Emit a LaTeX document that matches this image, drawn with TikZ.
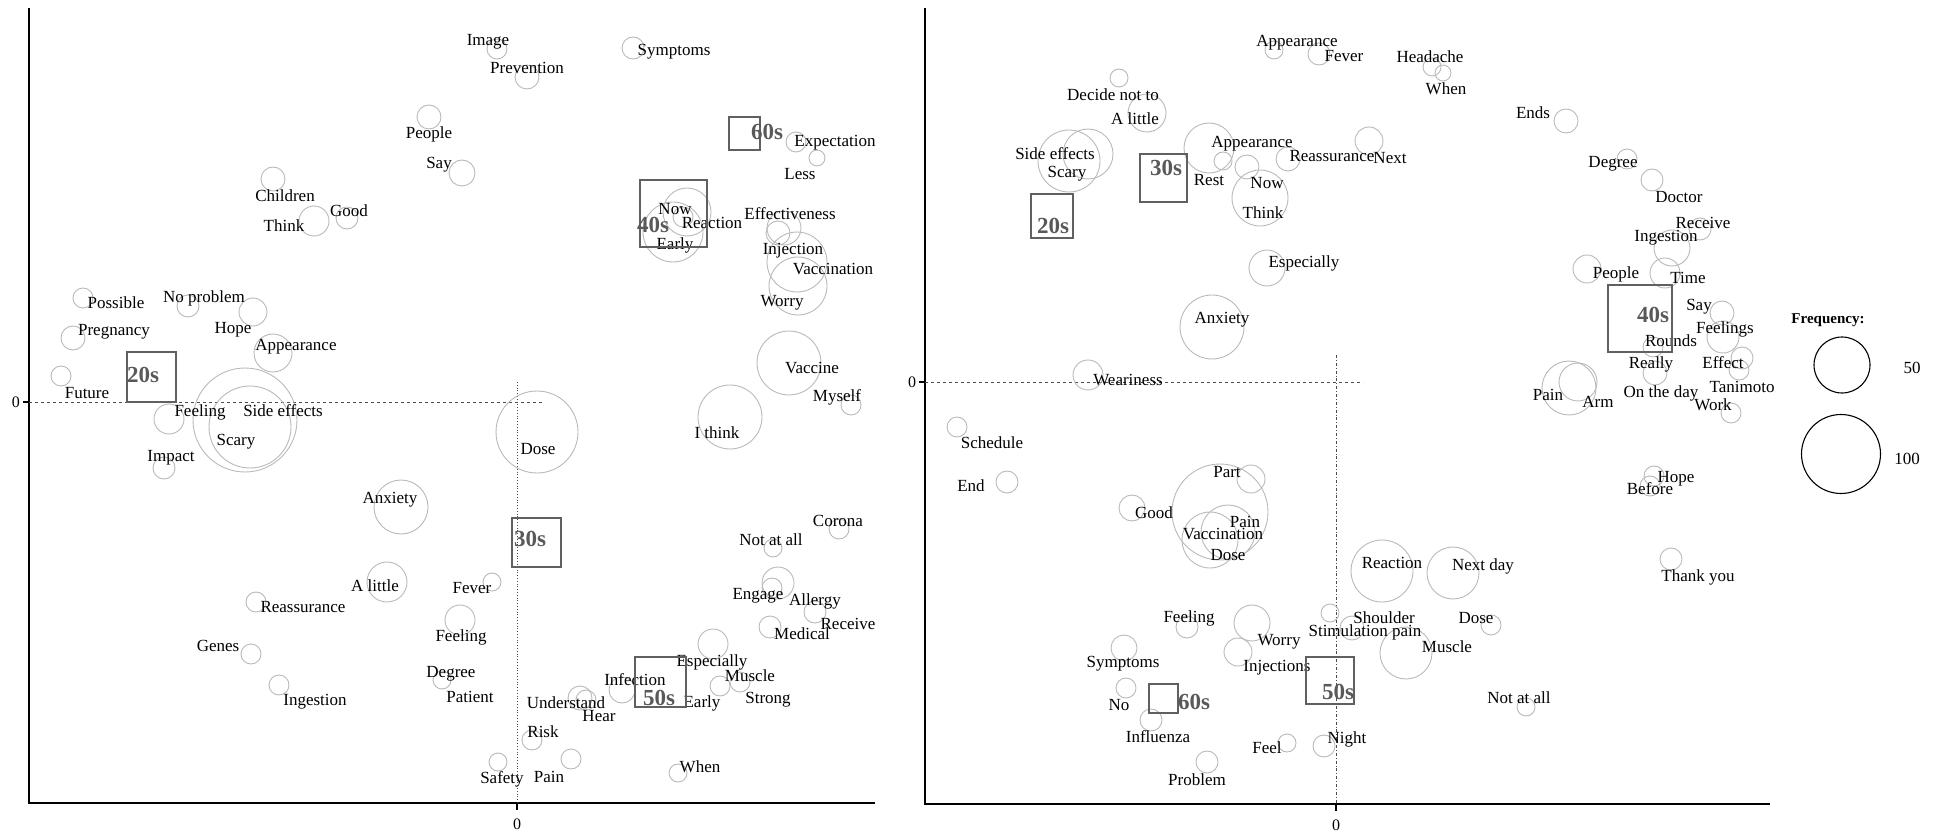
\documentclass[tikz,border=0pt]{standalone}
\usepackage{fontspec}
\setmainfont{Liberation Serif}
\usepackage{tikz}
\usetikzlibrary{positioning}

\begin{document}
\begin{tikzpicture}[
	x=1pt, y=-1pt,
	% words of the map
	word/.style={font=\fontsize{17}{17}\selectfont, inner sep=0pt},
	% bubble round a word (size = frequency)
	bub/.style={draw=gray!55, line width=0.9pt},
	% age group boxes
	grp/.style={draw=gray!75!black, line width=1.8pt},
	grplabel/.style={font=\fontsize{23}{23}\selectfont\bfseries, text=gray!70!black, inner sep=0pt},
	% axes and guide lines through 0
	axis/.style={draw=black, line width=2.4pt},
	guide/.style={draw=gray!60!black, line width=0.8pt},
	zero/.style={font=\fontsize{16}{16}\selectfont, inner sep=0pt},
	% legend
	legbub/.style={draw=black, line width=1.1pt},
	legtitle/.style={font=\fontsize{15}{15}\selectfont\bfseries, inner sep=0pt}
	]
	\useasboundingbox (0,0) rectangle (1955,834);

	% ================= LEFT MAP =================
	\draw[axis] (29,8) -- (29,803) -- (875,803);
	\draw[axis, line width=1.2pt] (23,402) -- (29,402);
	\draw[axis, line width=1.2pt] (517,803) -- (517,810);
	\node[zero] (a-zero-y) at (16,402) {0};
	\node[zero] (a-zero-x) at (517,824) {0};
	\draw[guide, dashed] (29,402) -- (543,402);
	\draw[guide, dotted] (517,382) -- (517,803);

	% bubbles
	\draw[bub] (497,49) circle (10pt);
	\draw[bub] (527,77) circle (12pt);
	\draw[bub] (633,48) circle (11pt);
	\draw[bub] (429,117) circle (12pt);
	\draw[bub] (462,173) circle (13pt);
	\draw[bub] (796,142) circle (10pt);
	\draw[bub] (817,158) circle (8pt);
	\draw[bub] (273,179) circle (12pt);
	\draw[bub] (314,221) circle (15pt);
	\draw[bub] (347,218) circle (11pt);
	\draw[bub] (687,212) circle (24pt);
	\draw[bub] (683,217) circle (10pt);
	\draw[bub] (673,232) circle (30pt);
	\draw[bub] (784,228) circle (17pt);
	\draw[bub] (778,233) circle (12pt);
	\draw[bub] (797,262) circle (30pt);
	\draw[bub] (798,286) circle (29pt);
	\draw[bub] (83,298) circle (10pt);
	\draw[bub] (188,306) circle (11pt);
	\draw[bub] (253,312) circle (14pt);
	\draw[bub] (73,338) circle (12pt);
	\draw[bub] (273,353) circle (19pt);
	\draw[bub] (61,376) circle (10pt);
	\draw[bub] (789,363) circle (32pt);
	\draw[bub] (851,405) circle (10pt);
	\draw[bub] (169,419) circle (15pt);
	\draw[bub] (245,420) circle (52pt);
	\draw[bub] (250,427) circle (41pt);
	\draw[bub] (164,468) circle (11pt);
	\draw[bub] (730,417) circle (32pt);
	\draw[bub] (537,432) circle (41pt);
	\draw[bub] (401,507) circle (27pt);
	\draw[bub] (839,529) circle (10pt);
	\draw[bub] (773,548) circle (9pt);
	\draw[bub] (387,582) circle (20pt);
	\draw[bub] (492,582) circle (9pt);
	\draw[bub] (778,583) circle (16pt);
	\draw[bub] (772,588) circle (10pt);
	\draw[bub] (815,612) circle (11pt);
	\draw[bub] (256,602) circle (10pt);
	\draw[bub] (460,620) circle (15pt);
	\draw[bub] (770,627) circle (11pt);
	\draw[bub] (251,654) circle (10pt);
	\draw[bub] (713,644) circle (15pt);
	\draw[bub] (740,682) circle (10pt);
	\draw[bub] (720,686) circle (10pt);
	\draw[bub] (442,680) circle (9pt);
	\draw[bub] (622,690) circle (13pt);
	\draw[bub] (580,698) circle (12pt);
	\draw[bub] (586,700) circle (10pt);
	\draw[bub] (279,685) circle (10pt);
	\draw[bub] (532,740) circle (10pt);
	\draw[bub] (571,759) circle (10pt);
	\draw[bub] (498,762) circle (9pt);
	\draw[bub] (678,773) circle (9pt);

	% words
	\node[word] (a-image) at (488,42) {Image};
	\node[word] (a-prevention) at (527,68) {Prevention};
	\node[word] (a-symptoms) at (674,52) {Symptoms};
	\node[word] (a-people) at (429,134) {People};
	\node[word] (a-say) at (439,165) {Say};
	\node[word] (a-expectation) at (835,143) {Expectation};
	\node[word] (a-less) at (800,174) {Less};
	\node[word] (a-children) at (285,196) {Children};
	\node[word] (a-think) at (284,226) {Think};
	\node[word] (a-good) at (349,211) {Good};
	\node[word] (a-now) at (675,209) {Now};
	\node[word] (a-reaction) at (712,223) {Reaction};
	\node[word] (a-early) at (675,245) {Early};
	\node[word] (a-effectiveness) at (790,214) {Effectiveness};
	\node[word] (a-injection) at (793,251) {Injection};
	\node[word] (a-vaccination) at (833,269) {Vaccination};
	\node[word] (a-worry) at (782,303) {Worry};
	\node[word] (a-possible) at (116,303) {Possible};
	\node[word] (a-noproblem) at (204,298) {No problem};
	\node[word] (a-hope) at (233,330) {Hope};
	\node[word] (a-pregnancy) at (114,332) {Pregnancy};
	\node[word] (a-appearance) at (296,347) {Appearance};
	\node[word] (a-future) at (87,393) {Future};
	\node[word] (a-vaccine) at (812,368) {Vaccine};
	\node[word] (a-myself) at (837,397) {Myself};
	\node[word] (a-feeling) at (200,412) {Feeling};
	\node[word] (a-sideeffects) at (283,411) {Side effects};
	\node[word] (a-scary) at (236,442) {Scary};
	\node[word] (a-impact) at (171,458) {Impact};
	\node[word] (a-ithink) at (717,433) {I think};
	\node[word] (a-dose) at (538,449) {Dose};
	\node[word] (a-anxiety) at (390,500) {Anxiety};
	\node[word] (a-corona) at (838,521) {Corona};
	\node[word] (a-notatall) at (771,540) {Not at all};
	\node[word] (a-alittle) at (375,586) {A little};
	\node[word] (a-fever) at (472,588) {Fever};
	\node[word] (a-engage) at (758,596) {Engage};
	\node[word] (a-allergy) at (815,601) {Allergy};
	\node[word] (a-receive) at (848,624) {Receive};
	\node[word] (a-medical) at (802,634) {Medical};
	\node[word] (a-reassurance) at (303,607) {Reassurance};
	\node[word] (a-feeling2) at (461,637) {Feeling};
	\node[word] (a-genes) at (218,646) {Genes};
	\node[word] (a-especially) at (712,662) {Especially};
	\node[word] (a-muscle) at (750,676) {Muscle};
	\node[word] (a-early2) at (702,703) {Early};
	\node[word] (a-strong) at (768,700) {Strong};
	\node[word] (a-degree) at (451,674) {Degree};
	\node[word] (a-patient) at (470,697) {Patient};
	\node[word] (a-infection) at (635,680) {Infection};
	\node[word] (a-understand) at (566,703) {Understand};
	\node[word] (a-hear) at (599,716) {Hear};
	\node[word] (a-ingestion) at (315,702) {Ingestion};
	\node[word] (a-risk) at (543,732) {Risk};
	\node[word] (a-pain) at (549,777) {Pain};
	\node[word] (a-safety) at (502,779) {Safety};
	\node[word] (a-when) at (700,767) {When};

	% age groups
	\draw[grp] (127,352) rectangle (176,402);
	\node[grplabel] (a-20s) at (143,375) {20s};
	\draw[grp] (512,518) rectangle (561,567);
	\node[grplabel] (a-30s) at (530,539) {30s};
	\draw[grp] (640,180) rectangle (707,247);
	\node[grplabel] (a-40s) at (653,225) {40s};
	\draw[grp] (635,657) rectangle (686,707);
	\node[grplabel] (a-50s) at (659,698) {50s};
	\draw[grp] (729,117) rectangle (760,150);
	\node[grplabel] (a-60s) at (767,132) {60s};

	% ================= RIGHT MAP =================
	\draw[axis] (925,8) -- (925,804) -- (1770,804);
	\draw[axis, line width=1.2pt] (919,382) -- (925,382);
	\draw[axis, line width=1.2pt] (1336,804) -- (1336,811);
	\node[zero] (b-zero-y) at (912,382) {0};
	\node[zero] (b-zero-x) at (1336,825) {0};
	\draw[guide, dashed] (925,382) -- (1363,382);
	\draw[guide, dash dot] (1336,355) -- (1336,804);

	% bubbles
	\draw[bub] (1274,50) circle (9pt);
	\draw[bub] (1319,54) circle (11pt);
	\draw[bub] (1432,67) circle (9pt);
	\draw[bub] (1443,73) circle (8pt);
	\draw[bub] (1119,78) circle (9pt);
	\draw[bub] (1147,113) circle (19pt);
	\draw[bub] (1566,121) circle (12pt);
	\draw[bub] (1069,161) circle (31pt);
	\draw[bub] (1088,154) circle (25pt);
	\draw[bub] (1209,148) circle (25pt);
	\draw[bub] (1223,161) circle (9pt);
	\draw[bub] (1288,159) circle (12pt);
	\draw[bub] (1369,141) circle (14pt);
	\draw[bub] (1247,167) circle (12pt);
	\draw[bub] (1260,198) circle (28pt);
	\draw[bub] (1627,159) circle (10pt);
	\draw[bub] (1652,180) circle (11pt);
	\draw[bub] (1700,229) circle (11pt);
	\draw[bub] (1672,248) circle (18pt);
	\draw[bub] (1267,268) circle (18pt);
	\draw[bub] (1587,269) circle (14pt);
	\draw[bub] (1665,273) circle (15pt);
	\draw[bub] (1722,313) circle (12pt);
	\draw[bub] (1212,327) circle (32pt);
	\draw[bub] (1723,337) circle (16pt);
	\draw[bub] (1653,347) circle (10pt);
	\draw[bub] (1742,358) circle (11pt);
	\draw[bub] (1655,373) circle (12pt);
	\draw[bub] (1739,370) circle (10pt);
	\draw[bub] (1088,375) circle (15pt);
	\draw[bub] (1569,388) circle (27pt);
	\draw[bub] (1578,382) circle (19pt);
	\draw[bub] (1731,413) circle (10pt);
	\draw[bub] (957,427) circle (10pt);
	\draw[bub] (1654,476) circle (10pt);
	\draw[bub] (1650,486) circle (10pt);
	\draw[bub] (1007,482) circle (11pt);
	\draw[bub] (1251,479) circle (14pt);
	\draw[bub] (1132,508) circle (13pt);
	\draw[bub] (1220,512) circle (48pt);
	\draw[bub] (1228,532) circle (27pt);
	\draw[bub] (1210,540) circle (28pt);
	\draw[bub] (1671,559) circle (11pt);
	\draw[bub] (1382,571) circle (31pt);
	\draw[bub] (1453,573) circle (26pt);
	\draw[bub] (1330,613) circle (9pt);
	\draw[bub] (1187,627) circle (11pt);
	\draw[bub] (1252,623) circle (18pt);
	\draw[bub] (1491,625) circle (10pt);
	\draw[bub] (1352,628) circle (12pt);
	\draw[bub] (1124,648) circle (13pt);
	\draw[bub] (1238,652) circle (14pt);
	\draw[bub] (1406,653) circle (26pt);
	\draw[bub] (1126,688) circle (10pt);
	\draw[bub] (1526,707) circle (9pt);
	\draw[bub] (1151,720) circle (11pt);
	\draw[bub] (1287,743) circle (9pt);
	\draw[bub] (1324,746) circle (11pt);
	\draw[bub] (1207,762) circle (11pt);

	% words
	\node[word] (b-appearance) at (1297,43) {Appearance};
	\node[word] (b-fever) at (1344,56) {Fever};
	\node[word] (b-headache) at (1430,57) {Headache};
	\node[word] (b-when) at (1446,89) {When};
	\node[word] (b-decide) at (1113,95) {Decide not to};
	\node[word] (b-alittle) at (1135,119) {A little};
	\node[word] (b-ends) at (1533,113) {Ends};
	\node[word] (b-sideeffects) at (1055,154) {Side effects};
	\node[word] (b-scary) at (1067,174) {Scary};
	\node[word] (b-appearance2) at (1252,144) {Appearance};
	\node[word] (b-rest) at (1209,180) {Rest};
	\node[word] (b-reassurance) at (1332,156) {Reassurance};
	\node[word] (b-next) at (1390,158) {Next};
	\node[word] (b-now) at (1267,183) {Now};
	\node[word] (b-think) at (1263,213) {Think};
	\node[word] (b-degree) at (1613,164) {Degree};
	\node[word] (b-doctor) at (1679,197) {Doctor};
	\node[word] (b-receive) at (1703,223) {Receive};
	\node[word] (b-ingestion) at (1666,238) {Ingestion};
	\node[word] (b-especially) at (1304,263) {Especially};
	\node[word] (b-people) at (1616,274) {People};
	\node[word] (b-time) at (1688,278) {Time};
	\node[word] (b-say) at (1699,307) {Say};
	\node[word] (b-anxiety) at (1222,320) {Anxiety};
	\node[word] (b-feelings) at (1725,329) {Feelings};
	\node[word] (b-rounds) at (1671,341) {Rounds};
	\node[word] (b-effect) at (1723,363) {Effect};
	\node[word] (b-really) at (1651,364) {Really};
	\node[word] (b-tanimoto) at (1742,387) {Tanimoto};
	\node[word] (b-weariness) at (1128,380) {Weariness};
	\node[word] (b-pain) at (1548,395) {Pain};
	\node[word] (b-arm) at (1598,402) {Arm};
	\node[word] (b-ontheday) at (1661,393) {On the day};
	\node[word] (b-work) at (1713,405) {Work};
	\node[word] (b-schedule) at (992,443) {Schedule};
	\node[word] (b-hope) at (1676,479) {Hope};
	\node[word] (b-before) at (1650,489) {Before};
	\node[word] (b-end) at (971,486) {End};
	\node[word] (b-part) at (1227,472) {Part};
	\node[word] (b-good) at (1154,513) {Good};
	\node[word] (b-pain2) at (1245,522) {Pain};
	\node[word] (b-vaccination) at (1223,534) {Vaccination};
	\node[word] (b-dose) at (1228,555) {Dose};
	\node[word] (b-thankyou) at (1698,577) {Thank you};
	\node[word] (b-reaction) at (1392,563) {Reaction};
	\node[word] (b-nextday) at (1483,566) {Next day};
	\node[word] (b-shoulder) at (1384,618) {Shoulder};
	\node[word] (b-feeling) at (1189,618) {Feeling};
	\node[word] (b-worry) at (1279,642) {Worry};
	\node[word] (b-dose2) at (1476,618) {Dose};
	\node[word] (b-stimulation) at (1365,632) {Stimulation pain};
	\node[word] (b-symptoms) at (1123,664) {Symptoms};
	\node[word] (b-injections) at (1277,668) {Injections};
	\node[word] (b-muscle) at (1447,647) {Muscle};
	\node[word] (b-no) at (1119,705) {No};
	\node[word] (b-notatall) at (1519,698) {Not at all};
	\node[word] (b-influenza) at (1158,737) {Influenza};
	\node[word] (b-feel) at (1267,748) {Feel};
	\node[word] (b-night) at (1347,739) {Night};
	\node[word] (b-problem) at (1197,780) {Problem};

	% age groups
	\draw[grp] (1031,194) rectangle (1073,238);
	\node[grplabel] (b-20s) at (1053,226) {20s};
	\draw[grp] (1140,154) rectangle (1187,202);
	\node[grplabel] (b-30s) at (1166,168) {30s};
	\draw[grp] (1608,285) rectangle (1672,352);
	\node[grplabel] (b-40s) at (1653,315) {40s};
	\draw[grp] (1306,657) rectangle (1354,704);
	\node[grplabel] (b-50s) at (1338,692) {50s};
	\draw[grp] (1149,684) rectangle (1178,713);
	\node[grplabel] (b-60s) at (1194,702) {60s};

	% ================= LEGEND =================
	\node[legtitle] (freq) at (1828,320) {Frequency:};
	\draw[legbub] (1842,365) circle (28pt);
	\node[word] (freq-50) at (1912,368) {50};
	\draw[legbub] (1841,454) circle (39.5pt);
	\node[word] (freq-100) at (1907,459) {100};

\end{tikzpicture}
\end{document}
